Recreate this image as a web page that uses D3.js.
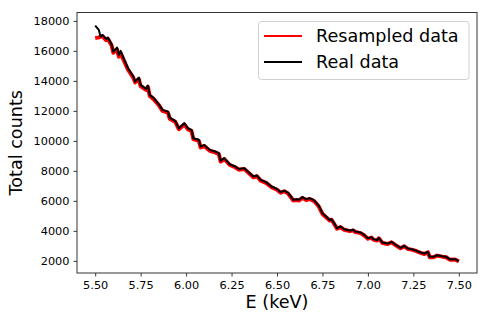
<!DOCTYPE html>
<html>
<head>
<meta charset="utf-8">
<script src="https://cdn.jsdelivr.net/npm/d3@7"></script>
<style>
  body { margin: 0; background: #fff; }
  text { font-family: "DejaVu Sans", sans-serif; fill: #000; }
</style>
</head>
<body>
<script>
// measurements for the figure
const m = { width: 491, height: 324, left: 77, right: 477, top: 12.5, bottom: 273 }

// energies (keV)
const energy = [5.50, 5.52, 5.53, 5.54, 5.56, 5.57, 5.59, 5.60, 5.62, 5.63, 5.64, 5.66, 5.68, 5.71, 5.72, 5.74,
    5.75, 5.78, 5.79, 5.80, 5.82, 5.85, 5.87, 5.90, 5.91, 5.94, 5.96, 5.99, 6.01, 6.03, 6.04, 6.07, 6.08, 6.10,
    6.13, 6.16, 6.18, 6.19, 6.21, 6.24, 6.27, 6.29, 6.32, 6.34, 6.37, 6.39, 6.41, 6.44, 6.47, 6.50, 6.52, 6.54,
    6.56, 6.57, 6.59, 6.61, 6.62, 6.64, 6.66, 6.68, 6.70, 6.71, 6.73, 6.75, 6.77, 6.79, 6.80, 6.82, 6.83, 6.85,
    6.87, 6.90, 6.92, 6.93, 6.96, 6.98, 7.00, 7.02, 7.03, 7.05, 7.06, 7.08, 7.11, 7.13, 7.15, 7.18, 7.20, 7.22,
    7.24, 7.26, 7.29, 7.31, 7.33, 7.34, 7.36, 7.38, 7.41, 7.43, 7.45, 7.48, 7.50]

// real data counts
const realCounts = [17690, 17400, 16950, 17070, 16800, 16890, 16440, 15950, 16220, 15730, 16000, 15400, 14850, 14290, 13950, 14220,
    13730, 13470, 13690, 13070, 12890, 12440, 12070, 11950, 11550, 11330, 10840, 11180, 10840, 10730, 10180, 10070, 9620, 9730,
    9400, 9290, 9180, 8670, 8850, 8440, 8290, 8130, 8180, 7960, 7620, 7690, 7400, 7250, 6960, 6800, 6580, 6680,
    6550, 6400, 6070, 6110, 6070, 6250, 6110, 6180, 6070, 5960, 5670, 5180, 4960, 4730, 4780, 4400, 4180, 4290,
    4110, 4020, 4070, 3960, 3890, 3730, 3510, 3580, 3450, 3380, 3530, 3220, 3150, 3270, 3090, 2870, 3000, 2820,
    2780, 2710, 2560, 2490, 2600, 2270, 2270, 2380, 2310, 2270, 2110, 2110, 1980]

// resampled data counts
const resampledCounts = [16850, 16900, 16950, 16980, 16720, 16800, 16380, 15880, 16100, 15620, 15850, 15300, 14760, 14200, 13900, 14120,
    13650, 13400, 13600, 13000, 12800, 12380, 12000, 11880, 11480, 11280, 10780, 11100, 10780, 10650, 10120, 10000, 9560, 9660,
    9340, 9230, 9120, 8620, 8790, 8390, 8240, 8080, 8120, 7910, 7570, 7640, 7350, 7200, 6910, 6740, 6540, 6640,
    6500, 6340, 6020, 6060, 6020, 6200, 6060, 6120, 6020, 5910, 5620, 5130, 4910, 4690, 4740, 4360, 4140, 4250,
    4070, 3980, 4030, 3920, 3850, 3690, 3480, 3550, 3420, 3350, 3500, 3190, 3120, 3240, 3060, 2840, 2970, 2790,
    2750, 2680, 2530, 2460, 2570, 2240, 2240, 2350, 2280, 2240, 2080, 2090, 1960]

const xTicks = [5.50, 5.75, 6.00, 6.25, 6.50, 6.75, 7.00, 7.25, 7.50]
const yTicks = [2000, 4000, 6000, 8000, 10000, 12000, 14000, 16000, 18000]

const legendLabels = ['Resampled data', 'Real data']
const seriesColors = ['#ff0000', '#000000']

const real = energy.map((e, i) => ({ e: e, c: realCounts[i] }))
const resampled = energy.map((e, i) => ({ e: e, c: resampledCounts[i] }))

const svg = d3.select('body').append('svg')
    .attr('width', m.width)
    .attr('height', m.height)

const xScale = d3.scaleLinear()
    .domain([5.4, 7.6])
    .range([m.left, m.right])

const yScale = d3.scaleLinear()
    .domain([1190, 18560])
    .range([m.bottom, m.top])

const line = d3.line()
    .x(d => xScale(d.e))
    .y(d => yScale(d.c))

// resampled band first, real data on top
svg.append('path')
    .datum(resampled)
    .attr('fill', 'none')
    .attr('stroke', seriesColors[0])
    .attr('stroke-width', 4)
    .attr('stroke-linejoin', 'round')
    .attr('d', line)

svg.append('path')
    .datum(real)
    .attr('fill', 'none')
    .attr('stroke', seriesColors[1])
    .attr('stroke-width', 2)
    .attr('stroke-linejoin', 'round')
    .attr('d', line)

// axes
const xAxis = d3.axisBottom(xScale)
    .tickValues(xTicks)
    .tickFormat(d3.format('.2f'))
    .tickSize(3.5)
    .tickPadding(4.5)
const gx = svg.append('g')
    .attr('transform', `translate(0,${m.bottom})`)
    .call(xAxis)

const yAxis = d3.axisLeft(yScale)
    .tickValues(yTicks)
    .tickFormat(d3.format('d'))
    .tickSize(3.5)
    .tickPadding(4)
const gy = svg.append('g')
    .attr('transform', `translate(${m.left},0)`)
    .call(yAxis)

svg.selectAll('.domain').remove()
svg.selectAll('.tick line').attr('stroke', '#222').attr('stroke-width', 0.9)
svg.selectAll('.tick text')
    .style('font-family', '"DejaVu Sans", sans-serif')
    .style('font-size', '11.3px')
    .attr('fill', '#222')

// frame
svg.append('rect')
    .attr('x', m.left)
    .attr('y', m.top)
    .attr('width', m.right - m.left)
    .attr('height', m.bottom - m.top)
    .attr('fill', 'none')
    .attr('stroke', '#333')
    .attr('stroke-width', 1)

// legend
const legend = svg.append('g')
legend.append('rect')
    .attr('x', 258.5)
    .attr('y', 21.5)
    .attr('width', 210.5)
    .attr('height', 58)
    .attr('rx', 3)
    .attr('fill', 'white')
    .attr('fill-opacity', 0.8)
    .attr('stroke', '#d0d0d0')

legendLabels.forEach((label, i) => {
    const y = 36 + i * 26
    legend.append('line')
        .attr('x1', 264).attr('x2', 302)
        .attr('y1', y).attr('y2', y)
        .attr('stroke', seriesColors[i])
        .attr('stroke-width', 1.8)
    legend.append('text')
        .attr('x', 316)
        .attr('y', y + 6.3)
        .style('font-size', '17.6px')
        .text(label)
})

// axis labels
svg.append('text')
    .attr('x', (m.left + m.right) / 2)
    .attr('y', 307.5)
    .attr('text-anchor', 'middle')
    .style('font-size', '17.6px')
    .text('E (keV)')

svg.append('text')
    .attr('transform', `translate(22, ${(m.top + m.bottom) / 2})rotate(-90)`)
    .attr('text-anchor', 'middle')
    .style('font-size', '17.6px')
    .text('Total counts')
</script>
</body>
</html>
